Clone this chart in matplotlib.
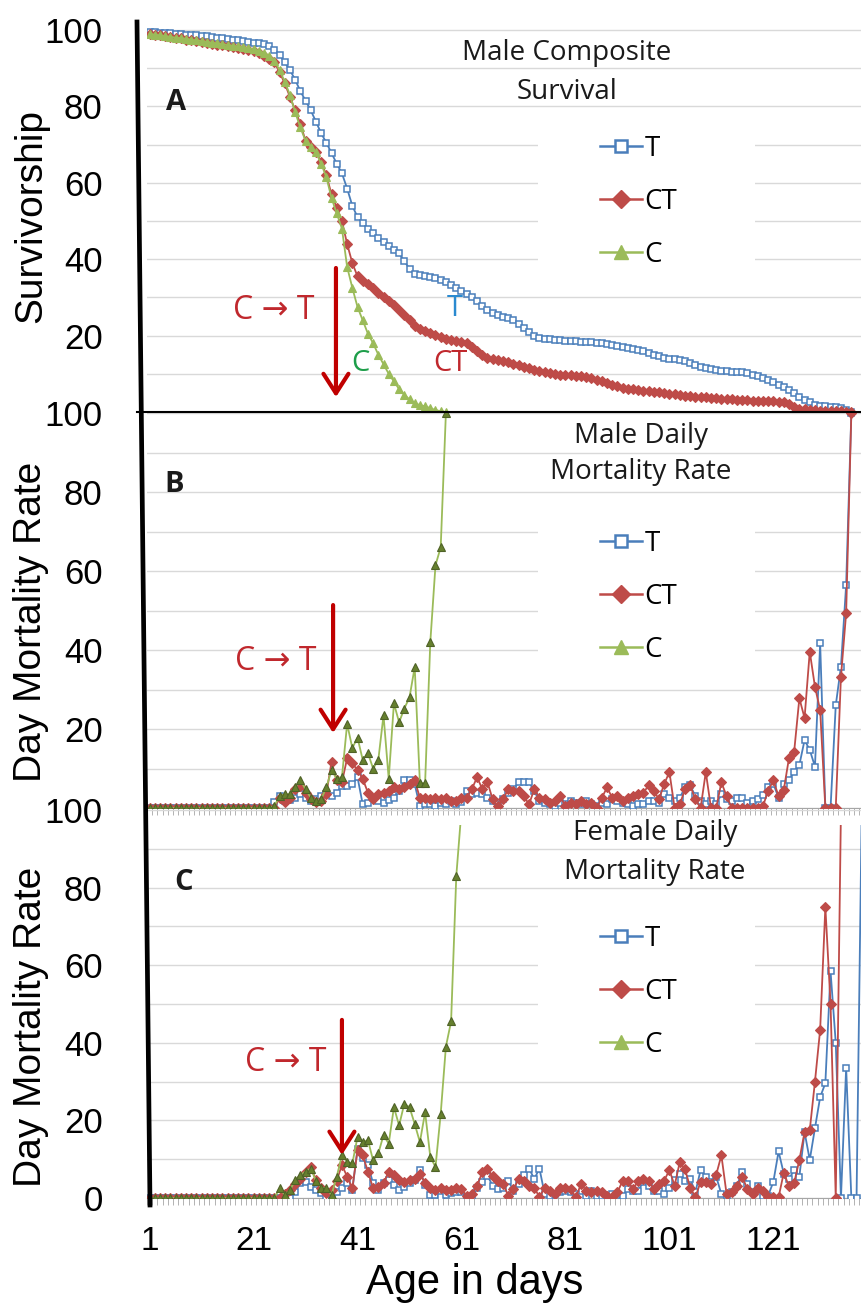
import numpy as np
import matplotlib
matplotlib.use("Agg")
import matplotlib.pyplot as plt
from matplotlib.lines import Line2D
from matplotlib.patches import Rectangle
from matplotlib.font_manager import FontProperties

# ---- male survivorship (%), one value per day of age
surv_T = [99.5, 99.4, 99.3, 99.2, 99.1, 99.0, 98.9, 98.8, 98.7, 98.6,
          98.5, 98.4, 98.2, 98.0, 97.9, 97.7, 97.5, 97.3, 97.1, 96.9,
          96.7, 96.5, 96.3, 95.8, 94.8, 93.5, 91.5, 89.5, 87.0, 84.0,
          81.5, 79.0, 76.0, 73.0, 70.5, 67.8, 65.0, 62.5, 58.5, 54.0,
          51.0, 49.5, 48.0, 46.8, 45.5, 44.5, 43.5, 42.3, 41.5, 39.5,
          37.5, 36.2, 35.8, 35.5, 35.3, 35.0, 34.6, 34.0, 33.2, 32.5,
          31.8, 31.0, 30.0, 29.0, 27.8, 26.8, 26.0, 25.5, 25.0, 24.5,
          24.0, 23.0, 22.0, 21.0, 20.0, 19.5, 19.2, 19.0, 18.9, 18.8,
          18.7, 18.6, 18.5, 18.4, 18.3, 18.2, 18.1, 18.0, 17.9, 17.6,
          17.3, 17.0, 16.8, 16.5, 16.2, 15.9, 15.5, 15.0, 14.6, 14.2,
          14.0, 13.8, 13.6, 13.3, 12.8, 12.2, 11.8, 11.5, 11.2, 11.0,
          10.8, 10.7, 10.6, 10.5, 10.4, 10.2, 9.8, 9.3, 8.8, 8.4,
          7.8, 7.0, 6.5, 5.8, 5.0, 4.0, 3.2, 2.5, 1.8, 1.5,
          1.5, 1.4, 1.3, 1.0, 0.5, 0.0]
surv_CT = [99.0, 98.8, 98.6, 98.4, 98.2, 98.0, 97.8, 97.5, 97.3, 97.0,
           96.8, 96.6, 96.4, 96.2, 96.0, 95.8, 95.5, 95.3, 95.0, 94.7,
           94.4, 94.0, 93.3, 92.5, 91.5, 89.0, 86.0, 82.5, 79.0, 75.5,
           71.0, 69.5, 68.0, 65.5, 62.0, 57.0, 53.5, 50.0, 44.0, 39.0,
           35.5, 34.2, 33.5, 32.5, 31.2, 30.0, 29.0, 28.0, 26.7, 25.3,
           24.0, 22.5, 21.8, 21.2, 20.7, 20.2, 19.7, 19.2, 18.8, 18.5,
           18.3, 18.0, 17.0, 16.0, 15.0, 14.2, 14.0, 13.7, 13.4, 13.0,
           12.6, 12.2, 11.8, 11.4, 11.0, 10.7, 10.4, 10.2, 10.0, 9.8,
           9.7, 9.6, 9.5, 9.3, 9.1, 8.8, 8.4, 8.0, 7.6, 7.1,
           6.7, 6.4, 6.1, 5.9, 5.7, 5.5, 5.4, 5.3, 5.2, 5.0,
           4.8, 4.6, 4.4, 4.2, 4.1, 4.0, 3.9, 3.8, 3.7, 3.6,
           3.5, 3.4, 3.3, 3.2, 3.1, 3.1, 3.0, 3.0, 3.0, 2.9,
           2.8, 2.7, 2.6, 2.0, 1.4, 0.9, 0.7, 0.5, 0.4, 0.3,
           0.3, 0.3, 0.3, 0.2, 0.1, 0.0]
surv_C = [99.0, 98.8, 98.6, 98.4, 98.2, 98.0, 97.9, 97.7, 97.5, 97.3,
          97.1, 96.9, 96.7, 96.5, 96.3, 96.1, 95.9, 95.7, 95.5, 95.2,
          95.0, 94.6, 94.0, 93.3, 92.0, 89.5, 86.5, 83.0, 78.5, 74.5,
          71.0, 69.5, 68.0, 65.0, 61.5, 56.0, 52.0, 48.0, 38.0, 32.5,
          27.5, 24.0, 20.5, 18.0, 15.0, 12.5, 10.0, 8.0, 6.0, 4.5,
          3.3, 2.3, 1.8, 1.5, 1.0, 0.5, 0.2, 0.0]

# ---- male daily mortality rate (%)
male_T = [0.0] * 24 + [1.5, 3.0, 1.7, 2.0, 2.6, 3.5,
          2.6, 1.7, 2.2, 3.0, 3.5, 3.0, 3.9, 5.6, 5.6, 6.0,
          7.8, 0.9, 1.3, 2.6, 1.7, 1.3, 2.0, 2.6, 4.3, 7.0,
          7.0, 6.0, 0.4, 0.9, 0.9, 0.4, 1.3, 0.9, 1.7, 0.9,
          1.5, 4.3, 3.5, 3.9, 3.5, 2.6, 1.7, 0.9, 2.2, 3.9,
          4.8, 6.5, 6.5, 6.5, 4.3, 1.7, 1.3, 0.9, 0.4, 1.3,
          0.9, 1.7, 1.3, 0.9, 1.7, 0.9, 0.4, 1.3, 0.9, 2.2,
          1.7, 1.3, 0.9, 0.4, 0.9, 0.9, 1.7, 1.7, 1.3, 3.5,
          2.6, 1.7, 2.6, 5.2, 5.7, 3.0, 1.7, 0.9, 1.7, 0.9,
          3.5, 2.2, 1.7, 2.6, 2.6, 1.3, 1.7, 2.2, 3.3, 5.2,
          6.1, 2.6, 6.1, 7.0, 9.2, 10.9, 17.2, 14.7, 10.5, 41.7,
          0.0, 0.0, 26.0, 35.8, 56.5, 100.0]
male_CT = [0.0] * 25 + [2.6, 1.5, 2.5, 4.8, 5.6,
           3.9, 2.2, 1.5, 1.7, 3.5, 11.7, 7.0, 6.5, 12.6, 11.3,
           9.6, 7.4, 3.9, 2.2, 3.5, 3.9, 4.3, 5.2, 4.8, 5.2,
           6.0, 7.0, 2.6, 2.6, 2.2, 2.6, 2.2, 2.6, 1.7, 1.7,
           2.6, 2.6, 4.8, 7.8, 4.8, 6.5, 2.2, 0.4, 2.2, 4.8,
           4.3, 4.3, 3.0, 0.9, 4.8, 2.6, 2.2, 1.3, 1.7, 3.0,
           0.4, 1.3, 0.9, 1.7, 0.9, 1.3, 0.0, 2.6, 5.2, 2.6,
           3.0, 1.7, 2.6, 3.0, 3.5, 3.9, 5.7, 4.3, 2.2, 6.1,
           9.1, 0.0, 0.9, 4.8, 5.7, 2.2, 0.0, 9.1, 0.0, 0.0,
           6.5, 3.0, 0.0, 0.0, 0.0, 0.0, 0.0, 0.0, 0.5, 4.4,
           7.0, 3.0, 4.6, 12.6, 14.3, 27.8, 22.8, 39.6, 30.7, 24.8,
           0.0, 0.0, 0.0, 33.2, 49.4, 100.0]
male_C = [0.0] * 24 + [0.5, 3.0, 3.5, 3.5, 5.2, 7.0,
          4.8, 2.6, 1.7, 2.2, 5.2, 9.6, 7.4, 7.8, 21.3, 15.2,
          17.8, 12.2, 13.9, 10.0, 12.2, 23.5, 7.4, 26.5, 21.7, 25.2,
          28.0, 35.7, 6.3, 6.3, 42.0, 61.5, 66.0, 100.0]

# ---- female daily mortality rate (%)
fem_T = [0.0] * 28 + [1.6, 3.8,
         4.2, 2.9, 2.0, 1.2, 0.3, 0.8, 1.5, 2.5, 3.8, 2.0,
         12.7, 10.2, 8.5, 3.8, 2.0, 3.8, 4.6, 3.3, 2.0, 2.9,
         3.8, 4.6, 7.2, 3.3, 0.8, 0.8, 0.3, 0.8, 1.2, 1.6,
         1.5, 0.2, 0.2, 2.7, 4.0, 5.7, 3.2, 2.3, 2.7, 4.4,
         1.9, 3.5, 5.9, 7.6, 4.9, 7.6, 1.0, 0.6, 1.0, 1.5,
         1.9, 1.5, 1.0, 0.2, 0.6, 1.9, 0.6, 0.6, 0.2, 1.0,
         0.8, 0.6, 2.3, 1.9, 1.9, 4.2, 3.2, 1.9, 1.9, 1.0,
         2.5, 4.6, 6.3, 4.4, 4.9, 1.5, 7.2, 5.5, 4.2, 5.5,
         1.0, 0.6, 1.5, 3.2, 6.8, 3.6, 1.5, 3.2, 0.6, 0.6,
         4.2, 12.0, 6.3, 4.9, 7.2, 5.5, 17.0, 9.8, 18.0, 26.0,
         29.6, 58.4, 40.0, 0.0, 33.5, 0.0, 0.0, 100.0]
fem_CT = [0.0] * 26 + [1.0, 2.0, 3.5, 5.0,
          6.8, 8.0, 4.6, 2.5, 1.2, 2.0, 4.5, 8.5, 5.5, 2.5,
          12.3, 11.0, 6.8, 2.5, 2.9, 3.8, 6.8, 5.9, 4.6, 4.2,
          4.6, 5.0, 6.3, 3.8, 2.5, 2.0, 2.5, 2.0, 2.0, 2.5,
          2.3, 0.6, 1.0, 3.2, 6.6, 7.4, 5.7, 4.4, 3.6, 0.6,
          2.3, 4.9, 4.4, 3.2, 2.7, 0.2, 2.7, 1.9, 1.0, 2.7,
          2.7, 2.3, 0.2, 3.6, 1.9, 1.5, 1.9, 1.5, 0.6, 0.2,
          1.5, 4.4, 4.4, 2.3, 4.4, 4.9, 4.4, 2.3, 3.6, 4.5,
          7.2, 3.2, 9.3, 7.4, 2.7, 0.2, 4.2, 4.2, 3.6, 6.0,
          11.0, 1.0, 1.5, 3.2, 5.5, 2.3, 1.0, 2.7, 1.9, 0.2,
          0.2, 0.2, 6.5, 3.0, 3.9, 9.8, 17.0, 17.5, 30.0, 43.4,
          75.0, 50.0, 0.0, 100.0]
fem_C = [0.0] * 25 + [2.5, 0.8, 2.0, 4.6, 5.9,
         6.8, 7.6, 4.5, 2.7, 2.5, 0.8, 5.5, 11.0, 9.3, 8.9,
         15.7, 14.4, 14.9, 9.7, 11.5, 16.2, 14.0, 23.4, 18.7, 24.3,
         23.4, 19.1, 14.4, 22.1, 10.6, 8.0, 21.7, 39.0, 45.5, 83.0, 100.0]

series = ["T", "CT", "C"]
days = np.arange(1, 139)
tick_days = [1, 21, 41, 61, 81, 101, 121]

BLUE = "#4A7EBB"
RED = "#BE4B48"
GREEN = "#9BBB59"
OLIVE = "#4F6228"
OLIVE_FILL = "#66802E"
DARKRED = "#C00000"

W, H = 862, 1304
fig = plt.figure(figsize=(W / 100, H / 100), dpi=100)


def fx(px):
    return px / W


def fy(py):
    return 1 - py / H


TXT = ["Open Sans", "DejaVu Sans"]
NUM = "Liberation Sans"

left, right = 147, 862
axA = fig.add_axes([fx(left), fy(412), (right - left) / W, (412 - 22) / H])
axB = fig.add_axes([fx(left), fy(808), (right - left) / W, (808 - 412) / H])
axC = fig.add_axes([fx(left), fy(1198), (right - left) / W, (1198 - 810) / H])

axA.set_ylim(0, 102.1)
axB.set_ylim(0, 100.3)
axC.set_ylim(0, 100)

for ax in (axA, axB, axC):
    ax.set_facecolor("none")
    ax.set_xlim(0.5, 138.05)
    ax.set_axisbelow(True)
    for s in ("top", "right", "left"):
        ax.spines[s].set_visible(False)
    ax.set_yticks(np.arange(0, 101, 10), minor=True)
    ax.yaxis.grid(True, which="both", color="#D9D9D9", lw=1)
    ax.tick_params(axis="y", which="both", length=0, pad=32)
    ax.set_xticks(np.arange(0.5, 138.5, 1), minor=True)
    ax.tick_params(axis="x", which="minor", length=5, color="#A6A6A6", direction="out")
    ax.spines["bottom"].set_color("#A6A6A6")

ylabs_top = ["", "20", "40", "60", "80", "100"]
for ax in (axA, axB):
    ax.set_yticks([0, 20, 40, 60, 80, 100], labels=ylabs_top, fontsize=25, fontfamily=NUM)
    ax.set_xticks(tick_days, labels=[""] * len(tick_days))
    ax.tick_params(axis="x", which="major", length=0)
axA.spines["bottom"].set_visible(False)
axA.tick_params(axis="x", which="minor", length=0)

axC.set_yticks([0, 20, 40, 60, 80, 100], labels=["0", "20", "40", "60", "80", "100"],
               fontsize=25, fontfamily=NUM)
axC.set_xticks(tick_days, labels=[str(d) for d in tick_days], fontsize=24, fontfamily=NUM)
axC.tick_params(axis="x", which="major", length=0, pad=20)

# clip area of the female panel (top strip hidden under the panel above)
clipC = Rectangle((0, 0), 1, 0.961, transform=axC.transAxes)


def draw(ax, vals, name, clip=None):
    v = np.array(vals, dtype=float)
    x = days[:len(v)]
    if name == "T":
        kw = dict(color=BLUE, marker="s", ms=5, mfc="white", mec=BLUE, mew=1.1)
    elif name == "CT":
        kw = dict(color=RED, marker="D", ms=5, mfc=RED, mec=RED, mew=0.8)
    elif ax is axA:
        kw = dict(color=GREEN, marker="^", ms=5.5, mfc=GREEN, mec=GREEN, mew=0.8)
    else:
        kw = dict(color=GREEN, marker="^", ms=5.5, mfc=OLIVE_FILL, mec=OLIVE, mew=0.8)
    ln, = ax.plot(x, v, lw=1.3, zorder=3, **kw)
    if clip is not None:
        ln.set_clip_path(clip)


for name, vals in zip(series, [surv_T, surv_CT, surv_C]):
    draw(axA, vals, name)
for name, vals in zip(series, [male_T, male_CT, male_C]):
    draw(axB, vals, name)
for name, vals in zip(series, [fem_T, fem_CT, fem_C]):
    draw(axC, vals, name, clip=clipC)

handles = [
    Line2D([], [], color=BLUE, lw=1.8, marker="s", ms=9, mfc="white", mec=BLUE, mew=1.8),
    Line2D([], [], color=RED, lw=1.8, marker="D", ms=9, mfc=RED, mec=RED),
    Line2D([], [], color=GREEN, lw=1.8, marker="^", ms=10, mfc=GREEN, mec=GREEN),
]
legprop = FontProperties(family=TXT, size=20)

# panel texts: title lines, letter, legend row, white legend box, arrow, arrow label
panels = [
    (axA, "Male Composite", "Survival", (81.3, 94.0, 83.8), (6.1, 80.9, "A"),
     202, (118, 290), (36.85, 37.7, 3.9), (24.9, 26.7)),
    (axB, "Male Daily", "Mortality Rate", (95.5, 94.2, 85.1), (5.7, 82.0, "B"),
     597, (508, 685), (36.3, 51.4, 19.0), (25.3, 37.0)),
    (axC, "Female Daily", "Mortality Rate", (98.2, 94.2, 84.1), (7.6, 81.4, "C"),
     992, (905, 1075), (38.0, 45.9, 11.1), (27.2, 34.8)),
]
for ax, t1, t2, tpos, let, leg_y, box, arr, ctpos in panels:
    ax.text(tpos[0], tpos[1], t1, ha="center", va="center", fontsize=20, family=TXT, color="#1A1A1A")
    ax.text(tpos[0], tpos[2], t2, ha="center", va="center", fontsize=20, family=TXT, color="#1A1A1A")
    ax.text(let[0], let[1], let[2], ha="center", va="center", fontsize=21,
            family=TXT, fontweight="bold", color="#1A1A1A")
    ax.add_patch(Rectangle((fx(538), fy(box[1])), (755 - 538) / W, (box[1] - box[0]) / H,
                           transform=fig.transFigure, facecolor="white", edgecolor="none", zorder=1))
    ax.legend(handles, series, loc="center left", bbox_to_anchor=(fx(600), fy(leg_y)),
              bbox_transform=fig.transFigure, frameon=False, prop=legprop,
              handlelength=1.5, handletextpad=0.1, labelspacing=0.9,
              borderpad=0, borderaxespad=0)
    ax.annotate("", xy=(arr[0], arr[2]), xytext=(arr[0], arr[1]),
                arrowprops=dict(arrowstyle="->,head_width=0.45,head_length=0.7",
                                color=DARKRED, lw=3, shrinkA=0, shrinkB=0,
                                mutation_scale=20), zorder=4)
    ax.text(ctpos[0], ctpos[1], "C \u2192 T", ha="center", va="center", fontsize=23,
            family=TXT, color="#C0282D")

# curve labels in the survival panel
axA.text(59.7, 27.2, "T", ha="center", va="center", fontsize=21, family=TXT, color="#2A8AD0")
axA.text(58.8, 12.8, "CT", ha="center", va="center", fontsize=21, family=TXT, color="#C0282D")
axA.text(41.5, 12.8, "C", ha="center", va="center", fontsize=21, family=TXT, color="#1E9E4A")

# axis titles
fig.text(fx(31), fy(216), "Survivorship", rotation=90, ha="center", va="center",
         fontsize=28, family=NUM)
fig.text(fx(31), fy(622), "Day Mortality Rate", rotation=90, ha="center", va="center",
         fontsize=28, family=NUM)
fig.text(fx(31), fy(1027), "Day Mortality Rate", rotation=90, ha="center", va="center",
         fontsize=28, family=NUM)
fig.text(fx(475), fy(1283), "Age in days", ha="center", va="center", fontsize=30, family=NUM)

# thick left axis and the black line between panels A and B
fig.add_artist(Line2D([fx(137), fx(150)], [fy(22), fy(1205)], color="black", lw=3.4))
fig.add_artist(Line2D([fx(137), fx(862)], [fy(412), fy(412)], color="black", lw=1.5))

fig.savefig("out.png", dpi=100)
